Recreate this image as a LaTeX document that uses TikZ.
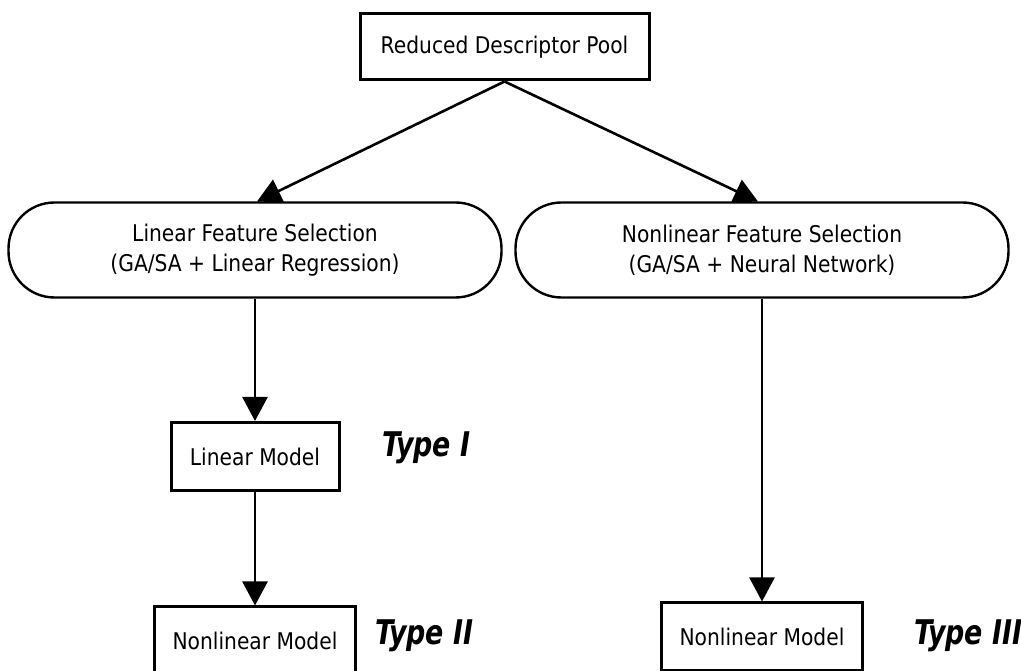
\documentclass[tikz,border=0pt]{standalone}
\usepackage{fontspec}
\setmainfont{DejaVu Sans}[FakeStretch=0.88]
\newfontfamily\typefont{DejaVu Sans}[FakeStretch=0.79]
\usetikzlibrary{arrows.meta, positioning}
\tikzset{
	block/.style={draw, rectangle, line width=3pt, fill=white, inner sep=2pt, font=\fontsize{23}{30}\selectfont},
	selection/.style={draw, rectangle, rounded corners=46pt, line width=2.4pt, fill=white, minimum width=493pt, minimum height=95pt, align=center, font=\fontsize{23}{30}\selectfont},
	% model type labels right of the boxes
	modeltype/.style={anchor=base west, inner sep=0pt, font=\typefont\bfseries\itshape\fontsize{34}{40}\selectfont},
	flow/.style={line width=2.6pt, -{Triangle[length=24pt, width=25pt]}},
}

\begin{document}
\begin{tikzpicture}[x=1pt, y=1pt]
	\useasboundingbox (0,0) rectangle (1021,671);
	\clip (0,0) rectangle (1021,671);
	
	\node (pool) [block, minimum width=289pt, minimum height=66pt] at (504.5,624) {Reduced Descriptor Pool};
	
	\node (lfs) [selection] at (255,421) {Linear Feature Selection\\(GA/SA + Linear Regression)};
	\node (nfs) [selection] at (762,421) {Nonlinear Feature Selection\\(GA/SA + Neural Network)};
	
	\node (lin) [block, minimum width=168pt, minimum height=68pt] at (255,214.5) {Linear Model};
	\node (nonlin1) [block, minimum width=201pt, minimum height=68pt] at (255,30) {Nonlinear Model};
	\node (nonlin2) [block, minimum width=201pt, minimum height=68pt] at (762,34) {Nonlinear Model};
	
	% labels
	\node (type1) [modeltype] at (382,214) {Type I};
	\node (type2) [modeltype] at (375,26) {Type II};
	\node (type3) [modeltype] at (914,26) {Type III};
	
	% where the slanted arrows meet the selection nodes
	\coordinate (lfsin) at (257,469.5);
	\coordinate (nfsin) at (758,469.5);
	
	\draw [flow] (pool.south) -- (lfsin);
	\draw [flow] (pool.south) -- (nfsin);
	\draw [flow] (lfs) -- (lin);
	\draw [flow] (lin) -- (nonlin1);
	\draw [flow] (nfs) -- (nonlin2);
\end{tikzpicture}
\end{document}
